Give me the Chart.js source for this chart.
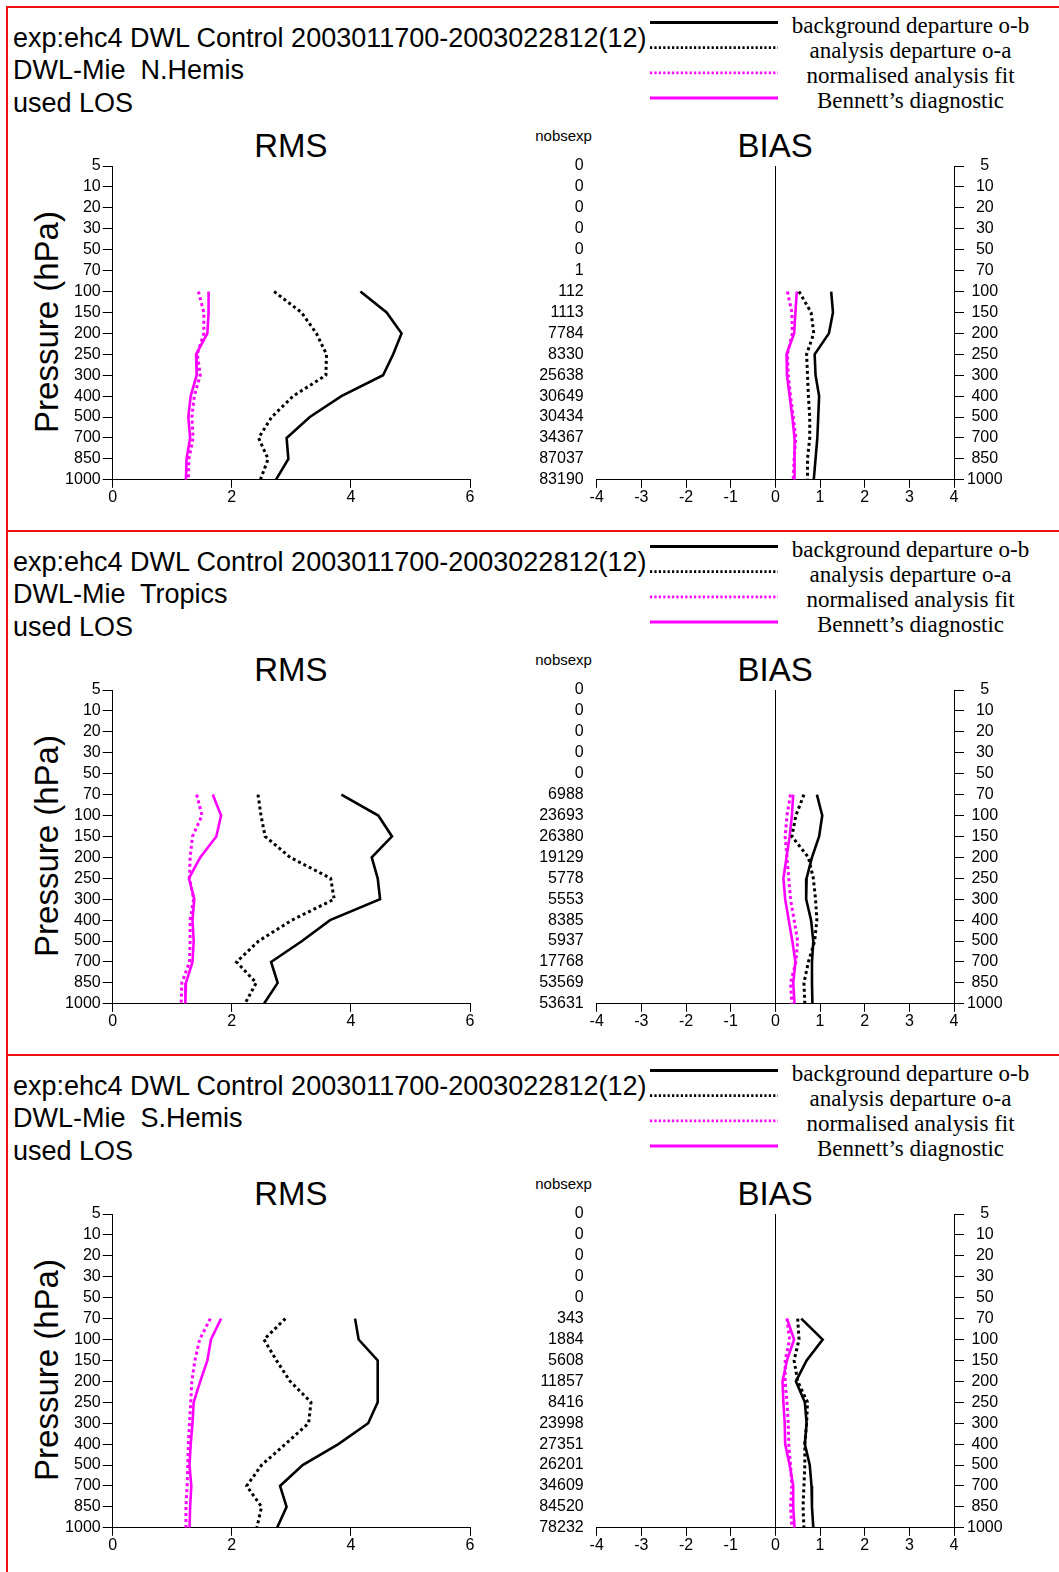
<!DOCTYPE html>
<html>
<head>
<meta charset="utf-8">
<script src="https://cdn.jsdelivr.net/npm/chart.js@4/dist/chart.umd.min.js"></script>
<style>
  html, body { margin: 0; padding: 0; overflow: hidden; background: #fff; }
  #page { position: relative; width: 1059px; height: 1572px; background: #fff; }
  .t { position: absolute; white-space: pre; color: #000; font-family: "Liberation Sans", Arial, sans-serif; line-height: 1.15; }
  .leg { position: absolute; white-space: pre; color: #000; font-family: "Liberation Serif", "Times New Roman", serif; font-size: 23px; line-height: 1.15; transform: translate(-50%, -50%); }
  canvas { position: absolute; }
  .red { position: absolute; background: #ee1111; }
</style>
</head>
<body>
<div id="page"></div>
<script>
// ---------------- data ----------------
const levels = ['5','10','20','30','50','70','100','150','200','250','300','400','500','700','850','1000'];
const rmsTicks = [0, 2, 4, 6];
const biasTicks = [-4, -3, -2, -1, 0, 1, 2, 3, 4];
const titleLine1 = 'exp:ehc4 DWL Control 2003011700-2003022812(12)';
const titleLine3 = 'used LOS';
const regions = ['N.Hemis', 'Tropics', 'S.Hemis'];
const seriesNames = ['background departure o-b', 'analysis departure o-a', 'normalised analysis fit', 'Bennett\u2019s diagnostic'];

// N.Hemis
const nhNobs   = [0,0,0,0,0,1,112,1113,7784,8330,25638,30649,30434,34367,87037,83190];
const nhRmsOB  = [null,null,null,null,null,null,4.16,4.60,4.85,4.71,4.54,3.84,3.31,2.92,2.95,2.74];
const nhRmsOA  = [null,null,null,null,null,null,2.71,3.17,3.42,3.59,3.58,3.03,2.67,2.45,2.61,2.48];
const nhRmsNorm= [null,null,null,null,null,null,1.44,1.53,1.53,1.42,1.47,1.37,1.33,1.35,1.28,1.27];
const nhRmsBen = [null,null,null,null,null,null,1.61,1.61,1.59,1.40,1.41,1.31,1.27,1.30,1.24,1.23];
const nhBiasOB  = [null,null,null,null,null,null,1.25,1.29,1.20,0.88,0.90,0.98,0.96,0.94,0.90,0.86];
const nhBiasOA  = [null,null,null,null,null,null,0.53,0.80,0.86,0.70,0.72,0.74,0.77,0.77,0.72,0.72];
const nhBiasNorm= [null,null,null,null,null,null,0.27,0.37,0.38,0.27,0.29,0.34,0.40,0.46,0.42,0.40];
const nhBiasBen = [null,null,null,null,null,null,0.48,0.45,0.42,0.25,0.26,0.32,0.38,0.43,0.43,0.43];

// Tropics
const trNobs   = [0,0,0,0,0,6988,23693,26380,19129,5778,5553,8385,5937,17768,53569,53631];
const trRmsOB  = [null,null,null,null,null,3.84,4.46,4.69,4.35,4.45,4.49,3.65,3.18,2.66,2.77,2.54];
const trRmsOA  = [null,null,null,null,null,2.44,2.49,2.56,2.98,3.66,3.72,3.01,2.45,2.08,2.41,2.22];
const trRmsNorm= [null,null,null,null,null,1.41,1.50,1.34,1.30,1.29,1.36,1.30,1.30,1.29,1.16,1.15];
const trRmsBen = [null,null,null,null,null,1.68,1.82,1.74,1.47,1.28,1.37,1.34,1.36,1.34,1.23,1.22];
const trBiasOB  = [null,null,null,null,null,0.93,1.05,0.98,0.82,0.70,0.69,0.80,0.85,0.82,0.82,0.83];
const trBiasOA  = [null,null,null,null,null,0.64,0.46,0.37,0.74,0.85,0.90,0.93,0.88,0.74,0.64,0.66];
const trBiasNorm= [null,null,null,null,null,0.34,0.26,0.22,0.26,0.30,0.34,0.42,0.50,0.46,0.34,0.37];
const trBiasBen = [null,null,null,null,null,0.40,0.37,0.32,0.25,0.18,0.22,0.30,0.38,0.45,0.40,0.43];

// S.Hemis
const shNobs   = [0,0,0,0,0,343,1884,5608,11857,8416,23998,27351,26201,34609,84520,78232];
const shRmsOB  = [null,null,null,null,null,4.07,4.13,4.45,4.45,4.45,4.29,3.79,3.19,2.81,2.92,2.76];
const shRmsOA  = [null,null,null,null,null,2.90,2.54,2.75,2.98,3.33,3.29,2.90,2.50,2.25,2.50,2.42];
const shRmsNorm= [null,null,null,null,null,1.64,1.46,1.38,1.33,1.31,1.29,1.27,1.26,1.25,1.23,1.23];
const shRmsBen = [null,null,null,null,null,1.82,1.65,1.59,1.47,1.36,1.34,1.31,1.29,1.32,1.30,1.29];
const shBiasOB  = [null,null,null,null,null,0.58,1.06,0.70,0.46,0.66,0.70,0.66,0.77,0.81,0.82,0.85];
const shBiasOA  = [null,null,null,null,null,0.50,0.53,0.42,0.50,0.72,0.70,0.66,0.66,0.64,0.62,0.64];
const shBiasNorm= [null,null,null,null,null,0.26,0.32,0.22,0.22,0.26,0.29,0.30,0.34,0.37,0.34,0.37];
const shBiasBen = [null,null,null,null,null,0.26,0.42,0.26,0.16,0.18,0.21,0.22,0.32,0.40,0.40,0.43];

// ---------------- layout ----------------
const page = document.getElementById('page');
const FONT = '"Liberation Sans", Arial, sans-serif';
const panelTops = [7.5, 531.5, 1055.5];
const styles = [
  { color: '#000000', width: 2.6, dash: [] },
  { color: '#000000', width: 3, dash: [3, 3] },
  { color: '#ff00ff', width: 3, dash: [3, 3] },
  { color: '#ff00ff', width: 2.6, dash: [] }
];

function addText(cls, text, left, top, css) {
  const d = document.createElement('div');
  d.className = cls;
  d.textContent = text;
  d.style.left = left + 'px';
  d.style.top = top + 'px';
  Object.assign(d.style, css || {});
  page.appendChild(d);
  return d;
}

function pts(vals) {
  const out = [];
  vals.forEach((v, i) => { if (v !== null) out.push({ x: v, y: i }); });
  return out;
}

function datasetsFor(arrs) {
  return arrs.map((a, k) => ({
    label: seriesNames[k],
    data: pts(a),
    showLine: true,
    borderColor: styles[k].color,
    backgroundColor: styles[k].color,
    borderWidth: styles[k].width,
    borderDash: styles[k].dash,
    pointRadius: 0,
    tension: 0,
    fill: false
  }));
}

const tickFont = { family: FONT, size: 16 };

function levelAxis(extra) {
  return Object.assign({
    type: 'linear', min: 0, max: levels.length - 1, reverse: true,
    afterBuildTicks: s => { s.ticks = levels.map((_, i) => ({ value: i })); },
    ticks: { autoSkip: false, color: '#000', font: tickFont, padding: 2, callback: v => levels[v] },
    grid: { display: true, drawOnChartArea: false, tickLength: 10, tickColor: '#000', lineWidth: 1 },
    border: { display: true, color: '#000', width: 1 }
  }, extra || {});
}

const H = 510;
const panels = [
  { region: regions[0], nobs: nhNobs, rms: [nhRmsOB, nhRmsOA, nhRmsNorm, nhRmsBen], bias: [nhBiasOB, nhBiasOA, nhBiasNorm, nhBiasBen] },
  { region: regions[1], nobs: trNobs, rms: [trRmsOB, trRmsOA, trRmsNorm, trRmsBen], bias: [trBiasOB, trBiasOA, trBiasNorm, trBiasBen] },
  { region: regions[2], nobs: shNobs, rms: [shRmsOB, shRmsOA, shRmsNorm, shRmsBen], bias: [shBiasOB, shBiasOA, shBiasNorm, shBiasBen] }
];

// red frame lines
const left = document.createElement('div'); left.className = 'red';
Object.assign(left.style, { left: '6px', top: '6px', width: '2px', height: '1566px' }); page.appendChild(left);
panelTops.forEach(P => {
  const r = document.createElement('div'); r.className = 'red';
  Object.assign(r.style, { left: '6px', top: (P - 1.5) + 'px', width: '1053px', height: '1.5px' });
  page.appendChild(r);
});

panels.forEach((pn, pi) => {
  const P = panelTops[pi];
  // titles
  const tcss = { fontSize: '27px', transform: 'translateY(-50%)' };
  addText('t', titleLine1, 13, P + 31, tcss);
  addText('t', 'DWL-Mie  ' + pn.region, 13, P + 63.7, tcss);
  addText('t', titleLine3, 13, P + 96, tcss);
  // legend
  const svgNS = 'http://www.w3.org/2000/svg';
  const svg = document.createElementNS(svgNS, 'svg');
  svg.setAttribute('width', '140'); svg.setAttribute('height', '100');
  svg.style.position = 'absolute'; svg.style.left = '645px'; svg.style.top = P + 'px';
  styles.forEach((st, k) => {
    const ln = document.createElementNS(svgNS, 'line');
    const y = 14.6 + 25.1 * k;
    ln.setAttribute('x1', 5); ln.setAttribute('x2', 133);
    ln.setAttribute('y1', y); ln.setAttribute('y2', y);
    ln.setAttribute('stroke', st.color);
    ln.setAttribute('stroke-width', st.dash.length ? 2.8 : 3);
    if (st.dash.length) ln.setAttribute('stroke-dasharray', '2.2 2.2');
    svg.appendChild(ln);
    addText('leg', seriesNames[k], 910.5, P + y + 3.5);
  });
  page.appendChild(svg);
  // headings
  addText('t', 'RMS', 290.8, P + 138, { fontSize: '33px', transform: 'translate(-50%,-50%)' });
  addText('t', 'BIAS', 775.2, P + 138, { fontSize: '33px', transform: 'translate(-50%,-50%)' });
  addText('t', 'nobsexp', 563.6, P + 128, { fontSize: '15px', transform: 'translate(-50%,-50%)' });
  addText('t', 'Pressure (hPa)', 47, P + 314, { fontSize: '33px', transform: 'translate(-50%,-50%) rotate(-90deg)' });

  // RMS chart
  const c1 = document.createElement('canvas');
  c1.width = 500; c1.height = H;
  c1.style.left = '0px'; c1.style.top = P + 'px';
  page.appendChild(c1);
  new Chart(c1, {
    type: 'scatter',
    data: { datasets: datasetsFor(pn.rms) },
    options: {
      responsive: false, animation: false, devicePixelRatio: 1,
      layout: { padding: { top: 158, bottom: 8.2, left: 0, right: 30 } },
      plugins: { legend: { display: false }, tooltip: { enabled: false } },
      scales: {
        x: {
          type: 'linear', min: 0, max: 6,
          afterBuildTicks: s => { s.ticks = rmsTicks.map(v => ({ value: v })); },
          afterFit: s => { s.height = 30; },
          ticks: { color: '#000', font: tickFont, padding: 0, autoSkip: false },
          grid: { display: true, drawOnChartArea: false, tickLength: 8, tickColor: '#000' },
          border: { display: true, color: '#000', width: 1 }
        },
        y: levelAxis({ position: 'left', afterFit: s => { s.width = 112.7; } })
      }
    }
  });

  // BIAS chart
  const c2 = document.createElement('canvas');
  c2.width = 559; c2.height = H;
  c2.style.left = '500px'; c2.style.top = P + 'px';
  page.appendChild(c2);
  const nobs = pn.nobs;
  new Chart(c2, {
    type: 'scatter',
    data: { datasets: datasetsFor(pn.bias).map(d => Object.assign(d, { yAxisID: 'y' })) },
    options: {
      responsive: false, animation: false, devicePixelRatio: 1,
      layout: { padding: { top: 158, bottom: 8.2, left: 0, right: 0 } },
      plugins: { legend: { display: false }, tooltip: { enabled: false } },
      scales: {
        x: {
          type: 'linear', min: -4, max: 4,
          afterBuildTicks: s => { s.ticks = biasTicks.map(v => ({ value: v })); },
          afterFit: s => { s.height = 30; },
          ticks: { color: '#000', font: tickFont, padding: 0, autoSkip: false },
          grid: {
            display: true, drawOnChartArea: true, tickLength: 8, tickColor: '#000',
            color: ctx => (ctx.tick && ctx.tick.value === 0) ? '#000' : 'rgba(0,0,0,0)', lineWidth: 1
          },
          border: { display: true, color: '#000', width: 1 }
        },
        y: levelAxis({
          position: 'left',
          afterFit: s => { s.width = 96.7; },
          ticks: { autoSkip: false, color: '#000', font: tickFont, padding: 5, callback: v => String(nobs[v]) },
          grid: { display: false },
          border: { display: false }
        }),
        y2: levelAxis({
          position: 'right',
          afterFit: s => { s.width = 105; },
          ticks: { autoSkip: false, color: '#000', font: tickFont, padding: 3, crossAlign: 'center', callback: v => levels[v] }
        })
      }
    }
  });
});
</script>
</body>
</html>
